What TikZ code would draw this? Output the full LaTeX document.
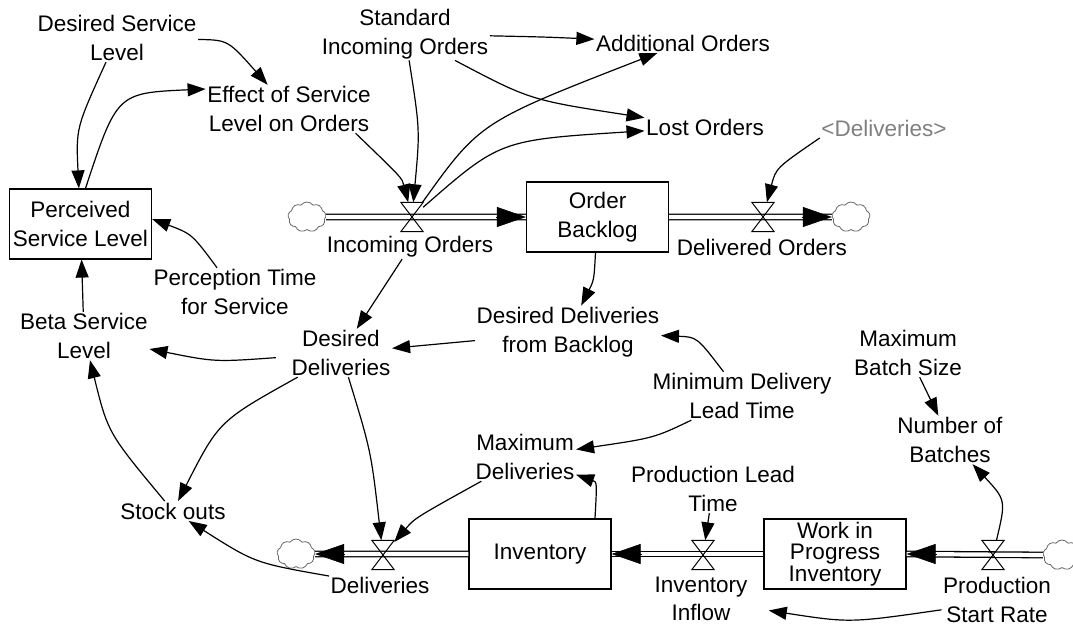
\documentclass[tikz,border=0pt]{standalone}
\usepackage{fontspec}
\setmainfont{Liberation Sans}
\usetikzlibrary{arrows.meta,shapes.symbols,calc}
\newcommand\vfs{\fontsize{22.5}{28.5}\selectfont}
\begin{document}
\begin{tikzpicture}[x=1pt,y=-1pt,
  every node/.style={font=\vfs},
  var/.style={align=center, inner sep=1.5pt},
  stock/.style={draw, line width=1.2pt, fill=white, minimum width=142pt, minimum height=70pt, align=center, inner sep=0pt},
  valve/.style={minimum width=22pt, minimum height=29pt, inner sep=0pt},
  cloudn/.style={cloud, cloud puffs=9, cloud puff arc=110, draw=black!60, line width=0.8pt, minimum width=38pt, minimum height=30pt, inner sep=0pt},
  inf/.style={line width=1.2pt, -{Triangle[length=18pt,width=13pt]}},
  pipe/.style={double=white, double distance=4.2pt, line width=1.3pt},
  pipetip/.style={-{Triangle[length=29pt,width=20pt]}, line width=0.5pt},
  hour/.style={line width=1pt}
]
\useasboundingbox (0,0) rectangle (1073,628);

% ---- stocks
\node[stock] (psl) at (80.5,224) {Perceived\\Service Level};
\node[stock] (ob) at (597.5,217) {Order\\Backlog};
\node[stock] (inv) at (540,554) {Inventory};
\node[stock, font=\fontsize{22.5}{21.5}\selectfont] (wip) at (835,554) {Work in\\Progress\\Inventory};

% ---- clouds
\node[cloudn] (c1) at (307,217) {};
\node[cloudn] (c2) at (851,217) {};
\node[cloudn] (c3) at (296,554) {};
\node[cloudn] (c4) at (1062,555) {};

% ---- valves
\node[valve] (v1) at (412,217) {};
\node[valve] (v2) at (763,217) {};
\node[valve] (v3) at (383,555) {};
\node[valve] (v4) at (703,555) {};
\node[valve] (v5) at (993,555) {};

% ---- pipes
\draw[pipe] (c1.east) -- (ob.west);
\draw[pipe] (ob.east) -- (c2.west);
\draw[pipe] (inv.west) -- (c3.east);
\draw[pipe] (wip.west) -- (inv.east);
\draw[pipe] (c4.west) -- (wip.east);
\draw[pipetip] ([xshift=-30pt]ob.west) -- (ob.west);
\draw[pipetip] ([xshift=-30pt]c2.west) -- (c2.west);
\draw[pipetip] ([xshift=30pt]c3.east) -- (c3.east);
\draw[pipetip] ([xshift=30pt]inv.east) -- (inv.east);
\draw[pipetip] ([xshift=30pt]wip.east) -- (wip.east);
\foreach \v in {v1,v2,v3,v4,v5}
  \draw[hour] (\v.north west) -- (\v.north east) -- (\v.south west) -- (\v.south east) -- cycle;

% ---- variables
\node[var] (dsl) at (117,38) {Desired Service\\Level};
\node[var] (eff) at (289,109) {Effect of Service\\Level on Orders};
\node[var] (sio) at (405,34) {Standard\\Incoming Orders};
\node[var] (add) at (683,43) {Additional Orders};
\node[var] (lost) at (705,127) {Lost Orders};
\node[var, text=black!50] (dref) at (884,128) {<Deliveries>};
\node[var] (pts) at (235,292) {Perception Time\\for Service};
\node[var] (bsl) at (84,336) {Beta Service\\Level};
\node[var] (dd) at (341,353) {Desired\\Deliveries};
\node[var] (ddfb) at (568,332) {Desired Deliveries\\from Backlog};
\node[var] (so) at (173,511) {Stock outs};
\node[var] (md) at (525,457) {Maximum\\Deliveries};
\node[var] (mdlt) at (742,396) {Minimum Delivery\\Lead Time};
\node[var] (plt) at (713,489) {Production Lead\\Time};
\node[var] (mbs) at (908,353) {Maximum\\Batch Size};
\node[var] (nob) at (950,440) {Number of\\Batches};
\node[var] (v1l) at (410,247) {Incoming Orders};
\node[var] (v2l) at (762,247) {Delivered Orders};
\node[var] (v3l) at (380,585) {Deliveries};
\node[var] (v4l) at (701,599) {Inventory\\Inflow};
\node[var] (v5l) at (997,600) {Production\\Start Rate};

% ---- influences
\coordinate (pslt) at ([xshift=5pt]psl.north);
\coordinate (obs) at ([xshift=-2pt]ob.south);
\coordinate (invt) at ([xshift=55pt]inv.north);
\draw[inf] (dsl) .. controls (76,128) .. (psl);
\draw[inf] (pslt) .. controls (117,93) .. ([yshift=20pt]eff.west);
\draw[inf] (dsl) .. controls (228,40) .. (eff);
\draw[inf] (eff.-20) .. controls (402,178) .. (v1);
\draw[inf] (sio) .. controls (420,130) .. (v1);
\draw[inf] (sio) .. controls (545,37) .. (add);
\draw[inf] (sio) .. controls (530,100) .. (lost);
\draw[inf] (v1) .. controls (480,122) .. (add);
\draw[inf] (v1) .. controls (500,140) .. (lost);
\draw[inf] (dref.south west) .. controls (776,168) .. (v2);
\draw[inf] (pts) .. controls (192,234) .. ([yshift=5pt]psl.east);
\draw[inf] (bsl) -- (psl);
\draw[inf, shorten <=14pt] (dd) .. controls (215,362) .. (bsl);
\draw[inf] (v1l) -- (dd);
\draw[inf] (obs) .. controls (594,280) .. (ddfb);
\draw[inf] (ddfb) -- (dd);
\draw[inf] (mdlt) .. controls (697,337) .. (ddfb);
\draw[inf] (dd) .. controls (219,421) .. (so);
\draw[inf] (so) .. controls (108,433) .. (bsl);
\draw[inf] (v3l) .. controls (255,563) .. (so);
\draw[inf] (dd) .. controls (371,451) .. (v3);
\draw[inf] (md) .. controls (415,518) .. (v3);
\draw[inf] (invt) .. controls (597,482) .. (md);
\draw[inf] (mdlt) .. controls (654,438) .. (md);
\draw[inf] (plt) -- (v4);
\draw[inf] (v5) .. controls (1006,500) .. (nob);
\draw[inf] (mbs) -- (nob);
\draw[inf, shorten >=20pt] (v5l.190) .. controls (850,623) .. (v4l.350);
\end{tikzpicture}
\end{document}
